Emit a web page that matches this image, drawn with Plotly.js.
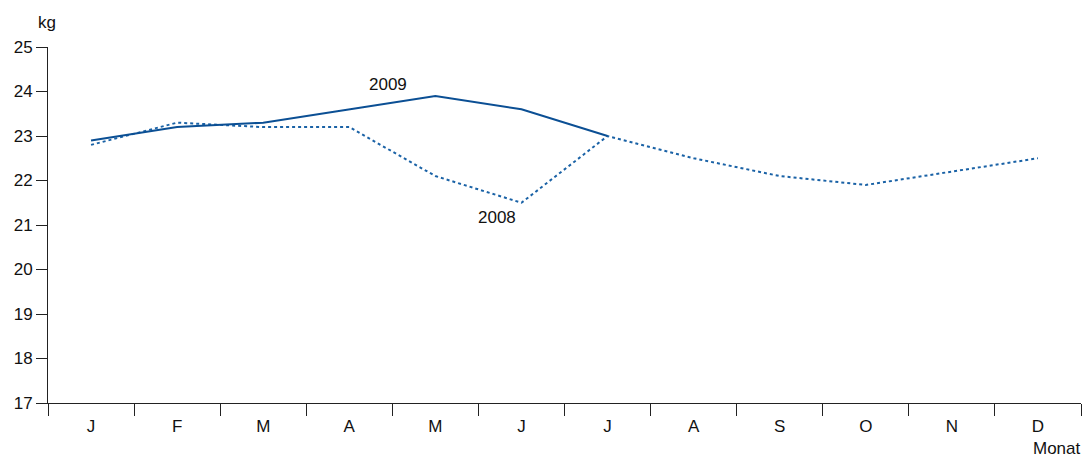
<!DOCTYPE html>
<html>
<head>
<meta charset="utf-8">
<script src="https://cdn.plot.ly/plotly-3.0.1.min.js"></script>
<style>html,body{margin:0;padding:0;background:#fff;}#chart{width:1084px;height:459px;}</style>
</head>
<body>
<div id="chart"></div>
<script>
const months = ["J","F","M","A","M","J","J","A","S","O","N","D"];
const values2009 = [22.9, 23.2, 23.3, 23.6, 23.9, 23.6, 23.0];
const values2008 = [22.8, 23.3, 23.2, 23.2, 22.1, 21.5, 23.0, 22.5, 22.1, 21.9, 22.2, 22.5];
const yTicks = [17,18,19,20,21,22,23,24,25];

const idx = months.map((m,i)=>i);
const traces = [
  {x: idx.slice(0, values2008.length), y: values2008, type:"scatter", mode:"lines",
   line:{color:"#1a62a6", width:2, dash:"dot"}, hoverinfo:"skip"},
  {x: idx.slice(0, values2009.length), y: values2009, type:"scatter", mode:"lines",
   line:{color:"#0b4f94", width:2}, hoverinfo:"skip"}
];
const font = {family:"Liberation Sans, Arial, sans-serif", size:17, color:"#111"};
const layout = {
  width:1084, height:459,
  margin:{l:48, r:3, t:47, b:56},
  showlegend:false,
  paper_bgcolor:"#fff", plot_bgcolor:"#fff",
  font: font,
  xaxis:{
    range:[-0.5, 11.5], tickmode:"array", tickvals: idx, ticktext: months,
    ticks:"", showgrid:false, zeroline:false, showline:true, linecolor:"#222", linewidth:1,
    ticklabelstandoff: 8, tickfont: font,
    minor:{tickmode:"array", tickvals: idx.concat([idx.length]).map(v=>v-0.5), ticks:"outside", ticklen:12, tickcolor:"#222", tickwidth:1, showgrid:false}
  },
  yaxis:{
    range:[17,25], tickmode:"array", tickvals: yTicks, ticks:"outside", ticklen:11, tickcolor:"#222",
    showgrid:false, zeroline:false, showline:true, linecolor:"#222", linewidth:1, tickfont: font
  },
  annotations:[
    {xref:"paper", yref:"paper", x:-0.001, y:1.07, text:"kg", showarrow:false, xanchor:"center", yanchor:"middle", font: font},
    {xref:"paper", yref:"paper", x:1.001, y:-0.157, text:"Monat", showarrow:false, xanchor:"right", yanchor:"bottom", borderpad:0, font: font},
    {xref:"x", yref:"y", x:3.45, y:24.15, text:"2009", showarrow:false, font: font},
    {xref:"x", yref:"y", x:4.72, y:21.16, text:"2008", showarrow:false, font: font}
  ]
};
Plotly.newPlot("chart", traces, layout, {staticPlot:true, displayModeBar:false});
</script>
</body>
</html>
